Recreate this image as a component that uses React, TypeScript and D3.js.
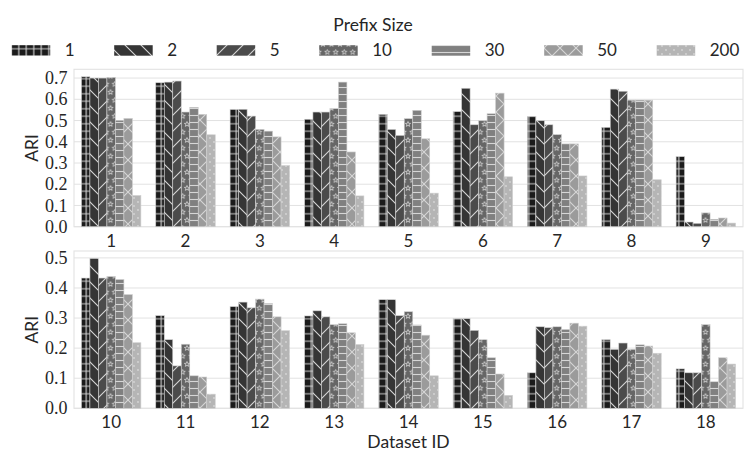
import * as d3 from 'd3';

// Datasets per panel
const topDatasets = ['1', '2', '3', '4', '5', '6', '7', '8', '9'];
const bottomDatasets = ['10', '11', '12', '13', '14', '15', '16', '17', '18'];
const prefixSizes = ['1', '2', '5', '10', '30', '50', '200'];

// ARI per prefix size, datasets 1..18
const ariP1 = [0.706, 0.678, 0.553, 0.506, 0.529, 0.542, 0.520, 0.468, 0.330, 0.433, 0.308, 0.338, 0.307, 0.361, 0.298, 0.118, 0.228, 0.131];
const ariP2 = [0.700, 0.681, 0.553, 0.540, 0.458, 0.652, 0.499, 0.648, 0.022, 0.498, 0.228, 0.353, 0.324, 0.361, 0.298, 0.271, 0.196, 0.118];
const ariP5 = [0.700, 0.686, 0.521, 0.540, 0.430, 0.480, 0.480, 0.638, 0.016, 0.433, 0.141, 0.334, 0.304, 0.308, 0.259, 0.268, 0.217, 0.118];
const ariP10 = [0.703, 0.540, 0.458, 0.556, 0.509, 0.499, 0.434, 0.596, 0.065, 0.438, 0.213, 0.363, 0.278, 0.321, 0.228, 0.271, 0.196, 0.278];
const ariP30 = [0.501, 0.562, 0.450, 0.681, 0.548, 0.532, 0.390, 0.596, 0.035, 0.428, 0.108, 0.348, 0.281, 0.277, 0.168, 0.262, 0.211, 0.089];
const ariP50 = [0.510, 0.529, 0.423, 0.352, 0.414, 0.629, 0.390, 0.596, 0.041, 0.378, 0.104, 0.304, 0.251, 0.243, 0.114, 0.283, 0.207, 0.168];
const ariP200 = [0.147, 0.433, 0.288, 0.145, 0.158, 0.235, 0.239, 0.221, 0.017, 0.218, 0.047, 0.258, 0.212, 0.108, 0.043, 0.273, 0.183, 0.147];

const series = [ariP1, ariP2, ariP5, ariP10, ariP30, ariP50, ariP200];

const barColors = ['#1b1b1b', '#353535', '#4b4b4b', '#666666', '#808080', '#9b9b9b', '#b5b5b5'];
const HATCH = '#d6d6d6';
const GRID = '#e2e2e2';
const TEXT = '#262626';
const SANS = 'Lato, DejaVu Sans, sans-serif';
const SERIF = 'Liberation Serif, serif';

const W = 747;
const H = 467;
const X0 = 74;
const X1 = 743;

function star(cx: number, cy: number, ro: number, ri: number) {
  const pts: string[] = [];
  for (let i = 0; i < 10; i++) {
    const r = i % 2 === 0 ? ro : ri;
    const a = -Math.PI / 2 + (i * Math.PI) / 5;
    pts.push(`${(cx + r * Math.cos(a)).toFixed(2)},${(cy + r * Math.sin(a)).toFixed(2)}`);
  }
  return 'M' + pts.join('L') + 'Z';
}

function Patterns() {
  const s = 16;
  const lw = 1.1;
  return (
    <defs>
      {/* + grid */}
      <pattern id="h0" patternUnits="userSpaceOnUse" width={7.5} height={7.5}>
        <rect width={7.5} height={7.5} fill={barColors[0]} />
        <path d="M0,3.75H7.5M3.75,0V7.5" stroke={HATCH} strokeWidth={lw} />
      </pattern>
      {/* \\ */}
      <pattern id="h1" patternUnits="userSpaceOnUse" width={s} height={s}>
        <rect width={s} height={s} fill={barColors[1]} />
        <path d={`M0,0L${s},${s}M-4,${s - 4}L4,${s + 4}M${s - 4},-4L${s + 4},4`} stroke={HATCH} strokeWidth={lw} />
      </pattern>
      {/* / */}
      <pattern id="h2" patternUnits="userSpaceOnUse" width={s} height={s}>
        <rect width={s} height={s} fill={barColors[2]} />
        <path d={`M0,${s}L${s},0M-4,4L4,-4M${s - 4},${s + 4}L${s + 4},${s - 4}`} stroke={HATCH} strokeWidth={lw} />
      </pattern>
      {/* stars */}
      <pattern id="h3" patternUnits="userSpaceOnUse" width={8.5} height={16}>
        <rect width={8.5} height={16} fill={barColors[3]} />
        <path
          d={star(4.25, 4.2, 2.7, 1.1) + star(0, 12.2, 2.7, 1.1) + star(8.5, 12.2, 2.7, 1.1)}
          fill="none"
          stroke={HATCH}
          strokeWidth={0.8}
        />
      </pattern>
      {/* - */}
      <pattern id="h4" patternUnits="userSpaceOnUse" width={7} height={7}>
        <rect width={7} height={7} fill={barColors[4]} />
        <path d="M0,3.5H7" stroke={HATCH} strokeWidth={lw} />
      </pattern>
      {/* x */}
      <pattern id="h5" patternUnits="userSpaceOnUse" width={s} height={s}>
        <rect width={s} height={s} fill={barColors[5]} />
        <path
          d={`M0,0L${s},${s}M-4,${s - 4}L4,${s + 4}M${s - 4},-4L${s + 4},4M0,${s}L${s},0M-4,4L4,-4M${s - 4},${s + 4}L${s + 4},${s - 4}`}
          stroke={HATCH}
          strokeWidth={lw}
        />
      </pattern>
      {/* dots */}
      <pattern id="h6" patternUnits="userSpaceOnUse" width={8} height={8}>
        <rect width={8} height={8} fill={barColors[6]} />
        <circle cx={2} cy={2} r={0.9} fill={HATCH} />
        <circle cx={6} cy={6} r={0.9} fill={HATCH} />
      </pattern>
    </defs>
  );
}

interface PanelProps {
  datasets: string[];
  offset: number;
  top: number;
  bottom: number;
  nTicks: number;
  labelBaseline: number;
}

function Panel({ datasets, offset, top, bottom, nTicks, labelBaseline }: PanelProps) {
  const vals = series.map(sr => sr.slice(offset, offset + datasets.length));
  const maxV = d3.max(vals.flat()) || 1;

  const y = d3.scaleLinear().domain([0, maxV * 1.05]).range([bottom, top]);
  const x = d3.scaleBand().domain(datasets).range([X0, X1]).paddingInner(0.2).paddingOuter(0.1);
  const xs = d3.scaleBand().domain(prefixSizes).range([0, x.bandwidth()]);
  const ticks = y.ticks(nTicks);
  const fmt = d3.format('.1f');

  return (
    <g>
      {ticks.map(t => (
        <line key={'g' + t} x1={X0} x2={X1} y1={y(t)} y2={y(t)} stroke={GRID} strokeWidth={1} />
      ))}
      <rect x={X0} y={top} width={X1 - X0} height={bottom - top} fill="none" stroke={GRID} strokeWidth={1.1} />
      {datasets.map((ds, di) => (
        <g key={ds}>
          {prefixSizes.map((p, si) => {
            const v = vals[si][di];
            return (
              <rect
                key={p}
                x={(x(ds) || 0) + (xs(p) || 0)}
                y={y(v)}
                width={xs.bandwidth()}
                height={y(0) - y(v)}
                fill={`url(#h${si})`}
                stroke="#cfcfcf"
                strokeWidth={0.6}
              />
            );
          })}
          <text
            x={(x(ds) || 0) + x.bandwidth() / 2}
            y={labelBaseline}
            textAnchor="middle"
            fontFamily={SANS}
            fontSize={17}
            fill={TEXT}
          >
            {ds}
          </text>
        </g>
      ))}
      {ticks.map(t => (
        <text
          key={'t' + t}
          x={67.5}
          y={y(t)}
          dy="0.34em"
          textAnchor="end"
          fontFamily={SERIF}
          fontSize={18}
          fill={TEXT}
        >
          {fmt(t)}
        </text>
      ))}
      <text
        transform={`translate(${38},${(top + bottom) / 2}) rotate(-90)`}
        textAnchor="middle"
        fontFamily={SANS}
        fontSize={17.5}
        fill={TEXT}
      >
        ARI
      </text>
    </g>
  );
}

function Legend() {
  let cx = 11.7;
  const items = prefixSizes.map((p, i) => {
    const x = cx;
    cx += 92.5 + 10 * p.length;
    return (
      <g key={p}>
        <rect x={x} y={45.2} width={38.5} height={10.5} fill={`url(#h${i})`} />
        <text x={x + 53} y={56.4} fontFamily={SANS} fontSize={17} fill={TEXT}>
          {p}
        </text>
      </g>
    );
  });
  return (
    <g>
      <text x={373} y={30.6} textAnchor="middle" fontFamily={SANS} fontSize={17.5} fill={TEXT}>
        Prefix Size
      </text>
      {items}
    </g>
  );
}

export default function App() {
  return (
    <svg
      width={W}
      height={H}
      viewBox={`0 0 ${W} ${H}`}
      style={{ position: 'absolute', left: 0, top: 0, background: '#fff' }}
    >
      <Patterns />
      <rect width={W} height={H} fill="#fff" />
      <Legend />
      <Panel datasets={topDatasets} offset={0} top={69.3} bottom={226.7} nTicks={8} labelBaseline={246.5} />
      <Panel datasets={bottomDatasets} offset={9} top={251} bottom={408.3} nTicks={6} labelBaseline={428.3} />
      <text x={(X0 + X1) / 2} y={447.5} textAnchor="middle" fontFamily={SANS} fontSize={17.5} fill={TEXT}>
        Dataset ID
      </text>
    </svg>
  );
}
